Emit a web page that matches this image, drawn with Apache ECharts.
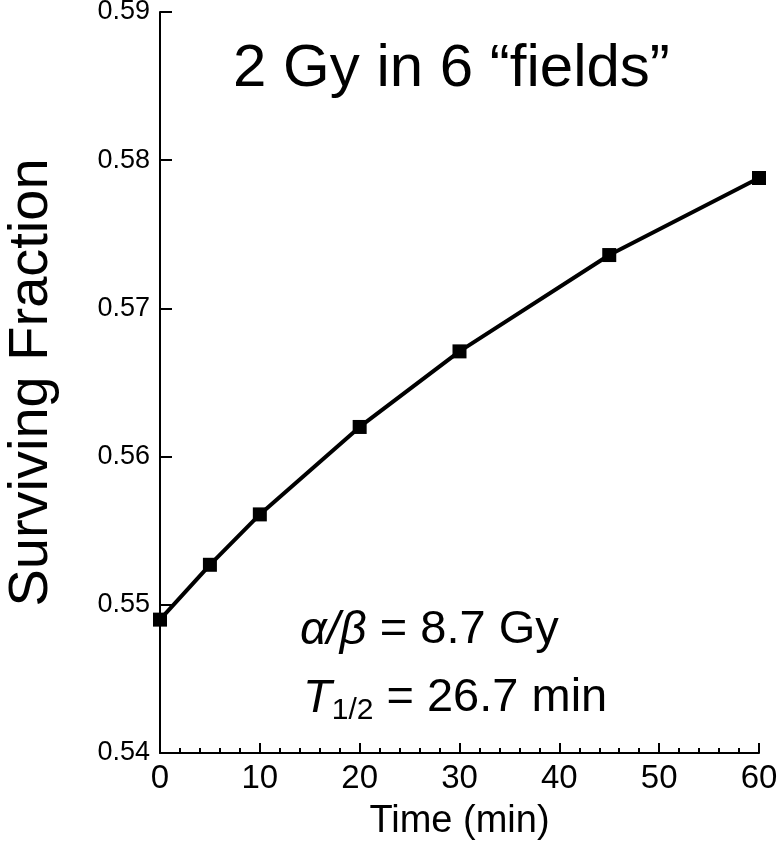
<!DOCTYPE html>
<html>
<head>
<meta charset="utf-8">
<script src="https://cdn.jsdelivr.net/npm/echarts@6/dist/echarts.min.js"></script>
<style>
html,body{margin:0;padding:0;background:#fff;}
#chart{width:779px;height:864px;}
</style>
</head>
<body>
<div id="chart"></div>
<script>
const times = [0, 5, 10, 20, 30, 45, 60];
const survivingFraction = [0.5490, 0.5527, 0.5561, 0.5620, 0.5671, 0.5736, 0.5788];
const xTicks = [0, 10, 20, 30, 40, 50, 60];
const yTicks = [0.54, 0.55, 0.56, 0.57, 0.58, 0.59];

const FONT = 'Liberation Sans, Arial, sans-serif';
const chart = echarts.init(document.getElementById('chart'), null, {renderer: 'canvas'});
const points = times.map((t, i) => [t, survivingFraction[i]]);

chart.setOption({
  backgroundColor: '#fff',
  animation: false,
  textStyle: {fontFamily: FONT, color: '#000'},
  grid: {left: 160, right: 20, top: 12, bottom: 111, containLabel: false, outerBoundsMode: 'none'},
  title: {
    text: '2 Gy in 6 \u201Cfields\u201D',
    left: 228, top: 34,
    textStyle: {fontFamily: FONT, fontSize: 60, fontWeight: 'normal', color: '#000'}
  },
  xAxis: {
    type: 'value', min: xTicks[0], max: xTicks[xTicks.length - 1], interval: 10,
    name: 'Time (min)', nameLocation: 'middle', nameGap: 50,
    nameTextStyle: {fontFamily: FONT, fontSize: 38, color: '#000'},
    axisLine: {show: true, onZero: false, lineStyle: {color: '#000', width: 2}},
    axisTick: {show: true, inside: true, length: 10, lineStyle: {color: '#000', width: 2}},
    minorTick: {show: true, splitNumber: 5, length: 5, lineStyle: {color: '#000', width: 2}},
    splitLine: {show: false},
    axisLabel: {fontFamily: FONT, fontSize: 33, color: '#000', margin: 9}
  },
  yAxis: {
    type: 'value', min: yTicks[0], max: yTicks[yTicks.length - 1], interval: 0.01,
    name: 'Surviving Fraction', nameLocation: 'middle', nameGap: 100, nameRotate: 90,
    nameTextStyle: {fontFamily: FONT, fontSize: 56, color: '#000'},
    axisLine: {show: true, onZero: false, lineStyle: {color: '#000', width: 2}},
    axisTick: {show: true, inside: true, length: 12, lineStyle: {color: '#000', width: 2}},
    splitLine: {show: false},
    axisLabel: {fontFamily: FONT, fontSize: 27, color: '#000', margin: 10,
      formatter: v => v.toFixed(2)}
  },
  graphic: [
    {type: 'text', left: 300, top: 607, style: {
      text: '{i|\u03B1/\u03B2} = 8.7 Gy',
      rich: {i: {fontStyle: 'italic', fontSize: 47, fontFamily: FONT, fill: '#000'}},
      font: '47px ' + FONT, fill: '#000'}},
    {type: 'text', left: 303, top: 675, style: {
      text: '{i|T}{s|1/2} = 26.7 min',
      rich: {
        i: {fontStyle: 'italic', fontSize: 47, fontFamily: FONT, fill: '#000'},
        s: {fontSize: 30, fontFamily: FONT, fill: '#000', padding: [24, 0, 0, 0]}
      },
      font: '47px ' + FONT, fill: '#000'}}
  ],
  series: [{
    type: 'line', data: points, symbol: 'rect', symbolSize: 14,
    lineStyle: {color: '#000', width: 4},
    itemStyle: {color: '#000'}
  }]
});
</script>
</body>
</html>
